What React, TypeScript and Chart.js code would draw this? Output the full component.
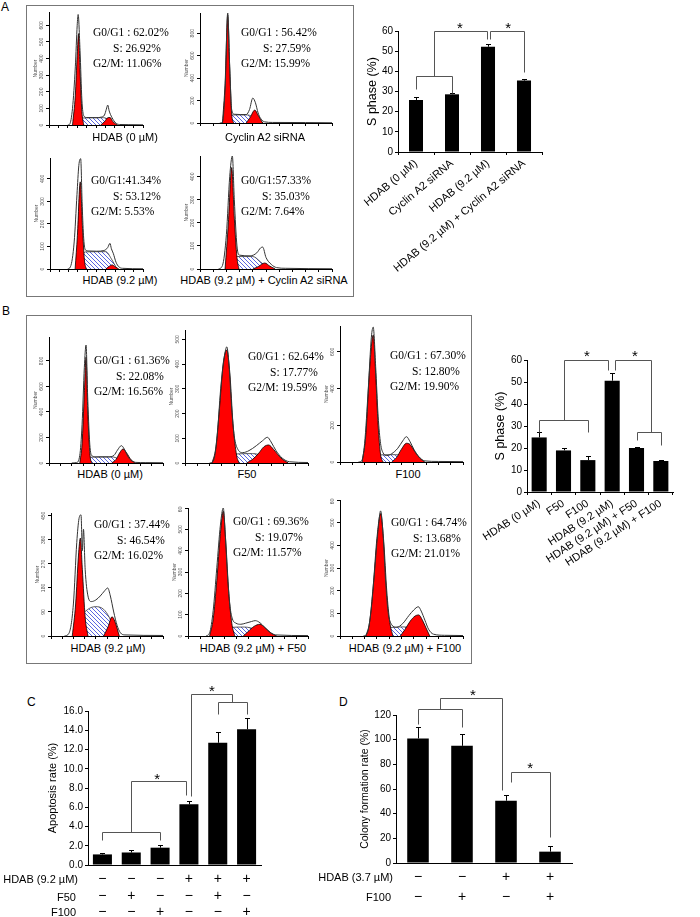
import React, { useEffect, useRef } from "react";
import { Chart, registerables } from "chart.js";

Chart.register(...registerables);
Chart.defaults.font.family = "'Liberation Sans', Arial, sans-serif";
Chart.defaults.color = "#000";

type Pt = [number, number];

// ---------------- Panel A flow histograms (DNA channel 0-100, cell number)
const A1_TOTAL: Pt[] = [[20,0],[22,5],[25,100],[28,350],[30,600],[31,665],[33,450],[35,150],[37,55],[40,45],[50,44],[56,48],[59,60],[61,95],[62.5,120],[64,85],[67,45],[71,12],[75,3],[85,2],[100,1]];
const A1_G1: Pt[] = [[25,0],[28,180],[30,420],[31.5,550],[33,330],[35,80],[37,0]];
const A1_S: Pt[] = [[27,0],[31,25],[35,42],[58,44],[64,30],[70,0]];
const A1_G2: Pt[] = [[55,0],[59,20],[63,45],[65,45],[68,20],[73,0]];

const A2_TOTAL: Pt[] = [[15,0],[17,10],[19,300],[21,980],[22.5,500],[24,120],[26,78],[35,75],[37.5,120],[40,222],[42,180],[44,90],[46,40],[49,10],[55,5],[80,4],[100,2]];
const A2_G1: Pt[] = [[17,0],[19,350],[21,960],[22.5,500],[24,80],[25.5,0]];
const A2_S: Pt[] = [[18,0],[21,40],[25,72],[36,72],[42,40],[48,0]];
const A2_G2: Pt[] = [[35,0],[38,50],[41.5,115],[44,70],[47.5,0]];

const A3_TOTAL: Pt[] = [[19,0],[22,10],[26,120],[29,330],[31,460],[33,490],[34.5,300],[36,150],[38,85],[42,80],[50,79],[58,82],[62,95],[64.5,114],[66,90],[68,70],[71,30],[74,10],[78,3],[100,1]];
const A3_G1: Pt[] = [[27,0],[29.5,150],[32.5,387],[35,180],[37,40],[39,0]];
const A3_S: Pt[] = [[29,0],[33,40],[38,76],[60,77],[66,45],[72,0]];
const A3_G2: Pt[] = [[60,0],[63,10],[67,18],[70,10],[74,0]];

const A4_TOTAL: Pt[] = [[14,0],[17,15],[20,150],[22.5,400],[24.5,490],[26,300],[28,100],[30,60],[38,57],[43,70],[46,92],[47.5,95],[50,50],[54,20],[58,6],[65,3],[100,1]];
const A4_G1: Pt[] = [[19,0],[21.5,200],[24,440],[26,220],[28,50],[29.5,0]];
const A4_S: Pt[] = [[19,0],[23,30],[28,54],[40,54],[46,30],[52,0]];
const A4_G2: Pt[] = [[40,0],[44,10],[49,26],[53,12],[57,0]];

// ---------------- Panel B flow histograms
const B1_TOTAL: Pt[] = [[20,0],[24,3],[27,60],[29,300],[31,750],[32.5,925],[34,500],[36,120],[38,55],[42,48],[52,48],[57,60],[60,100],[63.5,136],[66,110],[69,55],[72,20],[76,5],[85,3],[100,2]];
const B1_G1: Pt[] = [[27,0],[29,150],[31,550],[32.5,830],[34,400],[36,60],[37.5,0]];
const B1_S: Pt[] = [[27,0],[31,25],[36,45],[55,48],[62,30],[70,0]];
const B1_G2: Pt[] = [[55,0],[59,30],[62,80],[65,110],[68,80],[72,25],[76,0]];

const B2_TOTAL: Pt[] = [[20,0],[23,8],[26,100],[29,300],[32,430],[34,470],[36,380],[38,220],[40,110],[43,55],[47,42],[52,50],[58,70],[63,90],[67,104],[70,85],[74,50],[79,20],[85,5],[100,2]];
const B2_G1: Pt[] = [[22,0],[25,60],[28,220],[31,400],[34,457],[36.5,360],[39,160],[42,30],[44,0]];
const B2_S: Pt[] = [[24,0],[30,25],[40,36],[55,38],[66,25],[78,0]];
const B2_G2: Pt[] = [[50,0],[55,15],[60,40],[64,65],[68,73],[72,55],[78,20],[84,0]];

const B3_TOTAL: Pt[] = [[15,0],[17.5,5],[20,100],[23,400],[25.5,680],[27,735],[29,520],[31,250],[33,100],[35,50],[38,35],[42,45],[47,75],[51,115],[54,138],[57,110],[60,70],[64,30],[69,6],[80,3],[100,2]];
const B3_G1: Pt[] = [[18,0],[21,150],[24,500],[27,692],[29,480],[31,200],[33,40],[35,0]];
const B3_S: Pt[] = [[19,0],[24,25],[30,38],[45,40],[55,25],[64,0]];
const B3_G2: Pt[] = [[42,0],[46,25],[50,70],[54,102],[57,95],[61,55],[65,20],[69,0]];

const B4_TOTAL: Pt[] = [[12,0],[16,10],[20,120],[23,350],[25,440],[26.8,454],[28,320],[29,400],[30.5,250],[33,150],[36,129],[40,135],[44,150],[48,170],[50.6,180],[53,150],[56,90],[59,40],[62,12],[66,4],[100,2]];
const B4_G1: Pt[] = [[19,0],[22,120],[24.5,300],[26.2,367],[28,250],[30.5,70],[33,0]];
const B4_S: Pt[] = [[22,0],[27,70],[33,100],[40,110],[47,100],[52,70],[57,20],[60,0]];
const B4_G2: Pt[] = [[47,0],[51,35],[54.5,72],[57,55],[61,0]];

const B5_TOTAL: Pt[] = [[15,0],[18,15],[21,120],[24,320],[27,520],[29.4,600],[31,480],[33,280],[35,140],[37,80],[40,60],[44,55],[48,60],[53,68],[56,72],[60,62],[64,40],[68,18],[73,5],[100,2]];
const B5_G1: Pt[] = [[18,0],[21,80],[24,260],[27,480],[29.4,585],[31.5,440],[34,200],[36.5,60],[39,0]];
const B5_S: Pt[] = [[20,0],[27,25],[35,40],[47,42],[57,30],[66,10],[72,0]];
const B5_G2: Pt[] = [[46,0],[50,20],[55,45],[60,55],[64,40],[69,15],[74,0]];

const B6_TOTAL: Pt[] = [[19,0],[22,10],[25,100],[28,280],[31,470],[33,552],[35,450],[37,250],[39,110],[42,50],[46,38],[51,55],[56,90],[60,115],[63.7,129],[66,110],[69,70],[72,30],[76,8],[85,3],[100,2]];
const B6_G1: Pt[] = [[21,0],[24,60],[27,220],[30,430],[33,540],[35.5,420],[38,200],[40.5,60],[43,0]];
const B6_S: Pt[] = [[22,0],[29,20],[38,35],[52,40],[62,25],[70,0]];
const B6_G2: Pt[] = [[49,0],[53,30],[57,65],[61,88],[64,93],[67,70],[70,35],[73,0]];

// ---------------- Phase annotations
const A1_TXT = ["G0/G1 : 62.02%", "S: 26.92%", "G2/M: 11.06%"];
const A2_TXT = ["G0/G1 : 56.42%", "S: 27.59%", "G2/M: 15.99%"];
const A3_TXT = ["G0/G1:41.34%", "S: 53.12%", "G2/M: 5.53%"];
const A4_TXT = ["G0/G1:57.33%", "S: 35.03%", "G2/M: 7.64%"];
const B1_TXT = ["G0/G1 : 61.36%", "S: 22.08%", "G2/M: 16.56%"];
const B2_TXT = ["G0/G1 : 62.64%", "S: 17.77%", "G2/M: 19.59%"];
const B3_TXT = ["G0/G1 : 67.30%", "S: 12.80%", "G2/M: 19.90%"];
const B4_TXT = ["G0/G1 : 37.44%", "S: 46.54%", "G2/M: 16.02%"];
const B5_TXT = ["G0/G1 : 69.36%", "S: 19.07%", "G2/M: 11.57%"];
const B6_TXT = ["G0/G1 : 64.74%", "S: 13.68%", "G2/M: 21.01%"];

// ---------------- Bar charts
const A_CATS = ["HDAB (0 µM)", "Cyclin A2 siRNA", "HDAB (9.2 µM)", "HDAB (9.2 µM) + Cyclin A2 siRNA"];
const A_SPHASE = [25.8, 28.6, 52.2, 35.4];
const A_ERR = [1.3, 0.7, 1.3, 0.6];
const A_BRACKETS: Pt[][] = [
  [[0, 31], [0, 37.7], [1, 37.7], [1, 29.5]],
  [[0.5, 37.7], [0.5, 60], [1.97, 60], [1.97, 56]],
  [[2.06, 56], [2.06, 60], [3, 60], [3, 39.7]],
];
const A_STARS: Pt[] = [[1.22, 63.5], [2.56, 63.5]];

const B_CATS = ["HDAB (0 µM)", "F50", "F100", "HDAB (9.2 µM)", "HDAB (9.2 µM) + F50", "HDAB (9.2 µM) + F100"];
const B_SPHASE = [24.8, 18.9, 14.5, 50.6, 20.0, 14.1];
const B_ERR = [2.3, 1.2, 1.9, 3.4, 0.6, 0.4];
const B_BRACKETS: Pt[][] = [
  [[0, 27.4], [0, 32.7], [2, 32.7], [2, 27.4]],
  [[1, 32.7], [1, 60], [2.83, 60], [2.83, 55.5]],
  [[3.12, 55.5], [3.12, 60], [4.58, 60], [4.58, 27.4]],
  [[4, 23.6], [4, 27.4], [5, 27.4], [5, 21.4]],
];
const B_STARS: Pt[] = [[1.96, 63.6], [3.94, 63.6]];

const C_HDAB = ["−", "−", "−", "+", "+", "+"];
const C_F50 = ["−", "+", "−", "−", "+", "−"];
const C_F100 = ["−", "−", "+", "−", "−", "+"];
const C_APOPTOSIS = [1.1, 1.3, 1.8, 6.3, 12.7, 14.1];
const C_ERR = [0.15, 0.3, 0.3, 0.3, 1.15, 1.2];
const C_BRACKETS: Pt[][] = [
  [[0, 2.6], [0, 3.43], [2, 3.43], [2, 2.6]],
  [[1, 3.43], [1, 8.7], [2.9, 8.7], [2.9, 7.27]],
  [[4, 15.7], [4, 16.9], [5, 16.9], [5, 15.7]],
  [[4.5, 16.9], [4.5, 17.8], [3.07, 17.8], [3.07, 7.2]],
];
const C_STARS: Pt[] = [[1.9, 9.35], [3.8, 18.5]];

const D_HDAB = ["−", "−", "+", "+"];
const D_F100 = ["−", "+", "−", "+"];
const D_COLONY = [101, 95, 50.5, 9.2];
const D_ERR = [9.5, 9.5, 4.6, 4.6];
const D_BRACKETS: Pt[][] = [
  [[0, 112.7], [0, 124.9], [1, 124.9], [1, 110.5]],
  [[0.5, 124.9], [0.5, 133.5], [1.92, 133.5], [1.92, 59.2]],
  [[2.11, 65.9], [2.11, 74], [3, 74], [3, 20.8]],
];
const D_STARS: Pt[] = [[1.25, 139.5], [2.55, 80]];

const SANS = "'Liberation Sans', Arial, sans-serif";
const SERIF = "'Liberation Serif', 'Times New Roman', serif";

function makeHatch(): CanvasPattern | string {
  const c = document.createElement("canvas");
  c.width = 4; c.height = 4;
  const g = c.getContext("2d");
  if (!g) return "#c8ccf0";
  g.fillStyle = "#ffffff";
  g.fillRect(0, 0, 4, 4);
  g.strokeStyle = "#5a66e0";
  g.lineWidth = 1;
  g.beginPath();
  g.moveTo(0, 0); g.lineTo(4, 4);
  g.stroke();
  return g.createPattern(c, "repeat") || "#c8ccf0";
}

const histTicks = {
  id: "histTicks",
  afterDraw(chart: any) {
    const y = chart.scales.y;
    const ctx = chart.ctx;
    ctx.save();
    ctx.fillStyle = "#555";
    ctx.font = `5px ${SANS}`;
    ctx.textAlign = "center";
    ctx.textBaseline = "middle";
    y.ticks.forEach((t: any) => {
      const py = y.getPixelForValue(t.value);
      ctx.save();
      ctx.translate(y.right - 7, py);
      ctx.rotate(-Math.PI / 2);
      ctx.fillText(String(t.value), 0, 0);
      ctx.restore();
    });
    ctx.save();
    ctx.translate(y.left + 3, (chart.chartArea.top + chart.chartArea.bottom) / 2);
    ctx.rotate(-Math.PI / 2);
    ctx.fillText("Number", 0, 0);
    ctx.restore();
    ctx.restore();
  },
};

type HistProps = { L: number; R: number; T: number; B: number; yMax: number; yStep: number; total: Pt[]; g1: Pt[]; s: Pt[]; g2: Pt[] };

function Histogram({ L, R, T, B, yMax, yStep, total, g1, s, g2 }: HistProps) {
  const ref = useRef<HTMLCanvasElement>(null);
  const yW = 16, padTop = 2, xH = 4, padRight = 2;
  const W = R - L + yW + padRight;
  const H = B - T + padTop + xH;
  useEffect(() => {
    if (!ref.current) return;
    const hatch = makeHatch();
    const ds = (a: Pt[], bg: any, bc: string, bw: number, fill: any) => ({
      data: a.map(([x, y]) => ({ x, y })),
      backgroundColor: bg, borderColor: bc, borderWidth: bw, fill,
      pointRadius: 0, cubicInterpolationMode: "monotone" as const,
    });
    const chart = new Chart(ref.current, {
      type: "line",
      data: {
        datasets: [
          ds(total, "transparent", "#333", 1, false),
          ds(g1, "#ff0000", "#000", 0.8, "origin"),
          ds(g2, "#ff0000", "#000", 0.8, "origin"),
          ds(s, hatch, "#333", 0.8, "origin"),
        ],
      },
      options: {
        animation: false, responsive: false, devicePixelRatio: 1,
        layout: { padding: { top: padTop, right: padRight, left: 0, bottom: 0 } },
        plugins: { legend: { display: false }, tooltip: { enabled: false } },
        scales: {
          x: {
            type: "linear", min: 0, max: 100,
            ticks: { display: false },
            afterBuildTicks: (sc: any) => {
              const t = [];
              for (let v = 0; v <= 100; v += 10) t.push({ value: v });
              sc.ticks = t;
            },
            grid: { drawOnChartArea: false, drawTicks: true, tickLength: 3, color: "#000" },
            border: { color: "#000" },
            afterFit: (sc: any) => { sc.height = xH; sc.paddingLeft = 0; sc.paddingRight = 0; },
          },
          y: {
            type: "linear", min: 0, max: yMax,
            ticks: { display: false },
            afterBuildTicks: (sc: any) => {
              const t = [];
              for (let v = 0; v <= yMax; v += yStep) t.push({ value: v });
              sc.ticks = t;
            },
            grid: { drawOnChartArea: false, drawTicks: true, tickLength: 3, color: "#000" },
            border: { color: "#000" },
            afterFit: (sc: any) => { sc.width = yW; sc.paddingTop = 0; sc.paddingBottom = 0; },
          },
        },
      } as any,
      plugins: [histTicks],
    });
    return () => chart.destroy();
  }, []);
  return (
    <canvas ref={ref} width={W} height={H}
      style={{ position: "absolute", left: L - yW, top: T - padTop, width: W, height: H }} />
  );
}

type BarProps = {
  plotL: number; plotT: number; plotW: number; plotH: number;
  yW: number; padTop: number; xH: number; padRight: number; padLeft?: number;
  labels: (string | string[])[]; values: number[]; errs: number[];
  yMax: number; yStep: number; yTitle: string; titleSize: number; tickSize: number; decimals: number;
  xRot: number; xFontSize: number; xLineHeight?: string; xPad: number; xTicks: boolean; barPct: number;
  brackets: Pt[][]; stars: Pt[];
};

function BarChart(p: BarProps) {
  const ref = useRef<HTMLCanvasElement>(null);
  const padLeft = p.padLeft || 0;
  const W = padLeft + p.yW + p.plotW + p.padRight;
  const H = p.padTop + p.plotH + p.xH;
  useEffect(() => {
    if (!ref.current) return;
    const deco = {
      id: "deco",
      afterDatasetsDraw(chart: any) {
        const ctx = chart.ctx;
        const xs = chart.scales.x, ys = chart.scales.y;
        const meta = chart.getDatasetMeta(0);
        ctx.save();
        ctx.strokeStyle = "#000";
        ctx.lineWidth = 1;
        p.values.forEach((v, i) => {
          const x = Math.round(meta.data[i].x) + 0.5;
          const y0 = ys.getPixelForValue(v);
          const y1 = Math.round(ys.getPixelForValue(v + p.errs[i])) + 0.5;
          ctx.beginPath();
          ctx.moveTo(x, y0); ctx.lineTo(x, y1);
          ctx.moveTo(x - 2.5, y1); ctx.lineTo(x + 2.5, y1);
          ctx.stroke();
        });
        ctx.strokeStyle = "#555";
        p.brackets.forEach((poly) => {
          ctx.beginPath();
          poly.forEach(([ci, v], k) => {
            const x = Math.round(xs.getPixelForValue(ci)) + 0.5;
            const y = Math.round(ys.getPixelForValue(v)) + 0.5;
            if (k === 0) ctx.moveTo(x, y); else ctx.lineTo(x, y);
          });
          ctx.stroke();
        });
        ctx.fillStyle = "#000";
        ctx.font = `15px ${SANS}`;
        ctx.textAlign = "center";
        ctx.textBaseline = "middle";
        p.stars.forEach(([ci, v]) => {
          ctx.fillText("*", xs.getPixelForValue(ci), ys.getPixelForValue(v) + 5);
        });
        ctx.restore();
      },
    };
    const chart = new Chart(ref.current, {
      type: "bar",
      data: {
        labels: p.labels as any,
        datasets: [{ data: p.values, backgroundColor: "#000", borderWidth: 0, barPercentage: p.barPct, categoryPercentage: 1 }],
      },
      options: {
        animation: false, responsive: false, devicePixelRatio: 1,
        layout: { padding: { top: p.padTop, right: p.padRight, left: padLeft, bottom: 0 } },
        plugins: { legend: { display: false }, tooltip: { enabled: false } },
        scales: {
          x: {
            ticks: {
              autoSkip: false, minRotation: p.xRot, maxRotation: p.xRot, padding: p.xPad, color: "#000",
              font: { size: p.xFontSize, lineHeight: p.xLineHeight || 1.2 },
            },
            grid: { drawOnChartArea: false, drawTicks: p.xTicks, tickLength: 3, color: "#000" },
            border: { color: "#000" },
            afterFit: (sc: any) => { sc.height = p.xH; sc.paddingLeft = 0; sc.paddingRight = 0; },
          },
          y: {
            min: 0, max: p.yMax,
            ticks: { stepSize: p.yStep, padding: 2, font: { size: p.tickSize }, color: "#000",
              callback: (v: any) => Number(v).toFixed(p.decimals) },
            grid: { drawOnChartArea: false, drawTicks: true, tickLength: 3, color: "#000" },
            border: { color: "#000" },
            title: { display: true, text: p.yTitle, font: { size: p.titleSize }, color: "#000" },
            afterFit: (sc: any) => { sc.width = p.yW; sc.paddingTop = 0; sc.paddingBottom = 0; },
          },
        },
      } as any,
      plugins: [deco],
    });
    return () => chart.destroy();
  }, []);
  return (
    <canvas ref={ref} width={W} height={H}
      style={{ position: "absolute", left: p.plotL - p.yW - padLeft, top: p.plotT - p.padTop, width: W, height: H }} />
  );
}

type TxtProps = { x: number; y: number; size?: number; serif?: boolean; align?: "left" | "center" | "right"; children: React.ReactNode };
function Txt({ x, y, size = 11, serif = false, align = "left", children }: TxtProps) {
  const tx = align === "center" ? "-50%" : align === "right" ? "-100%" : "0";
  return (
    <div style={{ position: "absolute", left: x, top: y, transform: `translate(${tx}, -50%)`, fontFamily: serif ? SERIF : SANS, fontSize: size, lineHeight: 1, whiteSpace: "nowrap", color: "#000" }}>
      {children}
    </div>
  );
}

function Phases({ x, y, t, indent = 22 }: { x: number; y: number; t: string[]; indent?: number }) {
  return (
    <>
      <Txt x={x} y={y} serif size={11.5}>{t[0]}</Txt>
      <Txt x={x + indent} y={y + 15.5} serif size={11.5}>{t[1]}</Txt>
      <Txt x={x} y={y + 31} serif size={11.5}>{t[2]}</Txt>
    </>
  );
}

export default function App() {
  return (
    <div style={{ position: "absolute", left: 0, top: 0, width: 700, height: 917, background: "#fff", overflow: "hidden" }}>
      {/* Panel A */}
      <Txt x={1} y={7} size={12}>A</Txt>
      <div style={{ position: "absolute", left: 26, top: 5, width: 326, height: 290, border: "1px solid #777" }} />
      <Histogram L={49} R={143} T={12} B={125} yMax={680} yStep={100} total={A1_TOTAL} g1={A1_G1} s={A1_S} g2={A1_G2} />
      <Histogram L={200} R={332} T={13} B={123} yMax={980} yStep={200} total={A2_TOTAL} g1={A2_G1} s={A2_S} g2={A2_G2} />
      <Histogram L={50} R={143} T={158} B={269} yMax={493} yStep={100} total={A3_TOTAL} g1={A3_G1} s={A3_S} g2={A3_G2} />
      <Histogram L={200} R={332} T={156} B={269} yMax={490} yStep={100} total={A4_TOTAL} g1={A4_G1} s={A4_S} g2={A4_G2} />
      <Phases x={93} y={33} t={A1_TXT} indent={20} />
      <Phases x={241} y={33} t={A2_TXT} indent={22} />
      <Phases x={91} y={181} t={A3_TXT} indent={22} />
      <Phases x={241} y={181} t={A4_TXT} indent={21} />
      <Txt x={125} y={137} align="center">HDAB (0 µM)</Txt>
      <Txt x={265} y={137} align="center">Cyclin A2 siRNA</Txt>
      <Txt x={120} y={280} align="center">HDAB (9.2 µM)</Txt>
      <Txt x={264} y={280} align="center">HDAB (9.2 µM) + Cyclin A2 siRNA</Txt>

      <BarChart plotL={398} plotT={31} plotW={144} plotH={121} yW={37} padTop={25} xH={130} padRight={8}
        labels={A_CATS} values={A_SPHASE} errs={A_ERR} yMax={60} yStep={10} yTitle="S phase (%)" titleSize={12.5}
        tickSize={10} decimals={0} xRot={40} xFontSize={11} xPad={2} xTicks={true} barPct={0.39}
        brackets={A_BRACKETS} stars={A_STARS} />

      {/* Panel B */}
      <Txt x={2} y={311} size={12}>B</Txt>
      <div style={{ position: "absolute", left: 26, top: 315, width: 444, height: 347, border: "1px solid #777" }} />
      <Histogram L={49} R={163} T={337} B={463} yMax={988} yStep={200} total={B1_TOTAL} g1={B1_G1} s={B1_S} g2={B1_G2} />
      <Histogram L={185} R={308} T={330} B={463} yMax={538} yStep={100} total={B2_TOTAL} g1={B2_G1} s={B2_S} g2={B2_G2} />
      <Histogram L={340} R={463} T={326} B={462} yMax={741} yStep={200} total={B3_TOTAL} g1={B3_G1} s={B3_S} g2={B3_G2} />
      <Histogram L={51} R={163} T={513} B={636} yMax={461} yStep={90} total={B4_TOTAL} g1={B4_G1} s={B4_S} g2={B4_G2} />
      <Histogram L={188} R={308} T={508} B={636} yMax={600} yStep={100} total={B5_TOTAL} g1={B5_G1} s={B5_S} g2={B5_G2} />
      <Histogram L={340} R={463} T={500} B={636} yMax={600} yStep={100} total={B6_TOTAL} g1={B6_G1} s={B6_S} g2={B6_G2} />
      <Phases x={94} y={361} t={B1_TXT} indent={22} />
      <Phases x={248} y={357} t={B2_TXT} indent={22} />
      <Phases x={390} y={356} t={B3_TXT} indent={22} />
      <Phases x={94} y={525} t={B4_TXT} indent={23} />
      <Phases x={233} y={522} t={B5_TXT} indent={22} />
      <Phases x={391} y={523} t={B6_TXT} indent={22} />
      <Txt x={110} y={474} align="center">HDAB (0 µM)</Txt>
      <Txt x={247} y={474} align="center">F50</Txt>
      <Txt x={408} y={474} align="center">F100</Txt>
      <Txt x={108} y={648} align="center">HDAB (9.2 µM)</Txt>
      <Txt x={253} y={648} align="center">HDAB (9.2 µM) + F50</Txt>
      <Txt x={405} y={648} align="center">HDAB (9.2 µM) + F100</Txt>

      <BarChart plotL={527} plotT={360} plotW={146} plotH={132} yW={38} padLeft={10} padTop={22} xH={80} padRight={14}
        labels={B_CATS} values={B_SPHASE} errs={B_ERR} yMax={60} yStep={10} yTitle="S phase (%)" titleSize={12.5}
        tickSize={10} decimals={0} xRot={33} xFontSize={11} xPad={2} xTicks={true} barPct={0.62}
        brackets={B_BRACKETS} stars={B_STARS} />

      {/* Panel C */}
      <Txt x={27} y={702} size={12}>C</Txt>
      <BarChart plotL={88} plotT={711} plotW={173} plotH={154} yW={46} padTop={34} xH={52} padRight={8}
        labels={C_HDAB.map((h, i) => [h, C_F50[i], C_F100[i]])} values={C_APOPTOSIS} errs={C_ERR}
        yMax={16} yStep={2} yTitle="Apoptosis rate (%)" titleSize={11} tickSize={10} decimals={1}
        xRot={0} xFontSize={14} xLineHeight="16.5px" xPad={6} xTicks={false} barPct={0.66}
        brackets={C_BRACKETS} stars={C_STARS} />
      <Txt x={78} y={879} align="right">HDAB (9.2 µM)</Txt>
      <Txt x={76} y={897} align="right">F50</Txt>
      <Txt x={76} y={912} align="right">F100</Txt>

      {/* Panel D */}
      <Txt x={339} y={702} size={12}>D</Txt>
      <BarChart plotL={396} plotT={715} plotW={176} plotH={148} yW={41} padTop={32} xH={50} padRight={8}
        labels={D_HDAB.map((h, i) => [h, D_F100[i]])} values={D_COLONY} errs={D_ERR}
        yMax={120} yStep={20} yTitle="Colony formation rate (%)" titleSize={10.5} tickSize={10} decimals={0}
        xRot={0} xFontSize={14} xLineHeight="20px" xPad={4} xTicks={false} barPct={0.49}
        brackets={D_BRACKETS} stars={D_STARS} />
      <Txt x={393} y={877} align="right">HDAB (3.7 µM)</Txt>
      <Txt x={391} y={897} align="right">F100</Txt>
    </div>
  );
}
